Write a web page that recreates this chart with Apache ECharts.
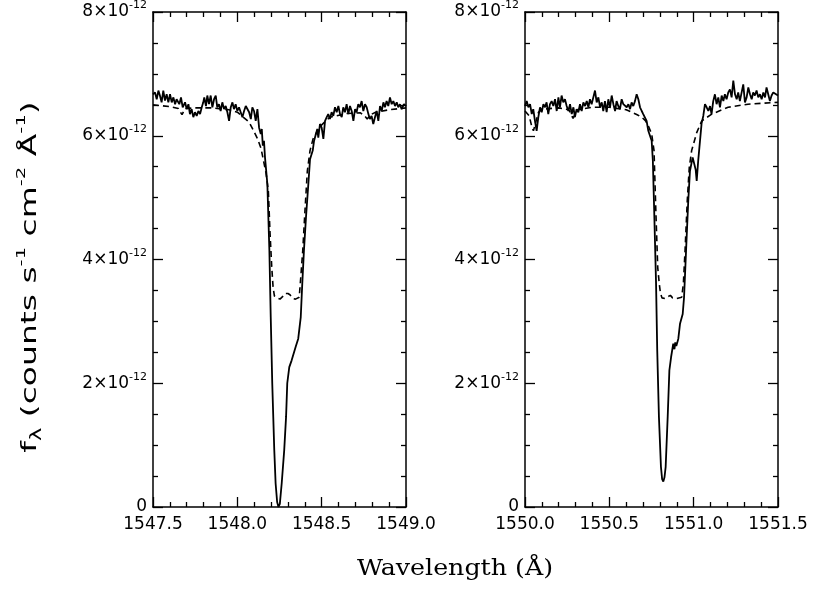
<!DOCTYPE html>
<html>
<head>
<meta charset="utf-8">
<script src="https://cdn.jsdelivr.net/npm/echarts@6/dist/echarts.min.js"></script>
<style>html,body{margin:0;padding:0;background:#fff}#c{width:813px;height:591px}</style>
</head>
<body>
<div id="c"></div>
<script>
// Flux values in units of 1e-12 counts s^-1 cm^-2 Å^-1; wavelength in Å
var solidLeft = [
[1547.500,6.67],[1547.512,6.70],[1547.522,6.59],[1547.532,6.73],[1547.541,6.65],[1547.551,6.54],[1547.561,6.73],[1547.571,6.57],[1547.581,6.67],[1547.591,6.54],[1547.601,6.67],[1547.611,6.54],[1547.621,6.62],[1547.631,6.51],[1547.640,6.59],[1547.656,6.51],[1547.666,6.62],[1547.676,6.46],[1547.690,6.54],[1547.700,6.43],[1547.710,6.51],[1547.719,6.35],[1547.729,6.43],[1547.739,6.30],[1547.749,6.38],[1547.759,6.32],[1547.769,6.40],[1547.779,6.35],[1547.789,6.46],[1547.798,6.54],[1547.804,6.62],[1547.814,6.48],[1547.822,6.65],[1547.832,6.51],[1547.842,6.65],[1547.852,6.46],[1547.862,6.59],[1547.872,6.65],[1547.881,6.46],[1547.891,6.51],[1547.901,6.40],[1547.911,6.54],[1547.921,6.43],[1547.931,6.48],[1547.941,6.38],[1547.951,6.24],[1547.961,6.46],[1547.971,6.54],[1547.980,6.43],[1547.990,6.51],[1548.000,6.40],[1548.010,6.46],[1548.020,6.38],[1548.030,6.30],[1548.040,6.40],[1548.050,6.48],[1548.060,6.51],[1548.070,6.38],[1548.080,6.27],[1548.089,6.46],[1548.099,6.40],[1548.109,6.24],[1548.119,6.43],[1548.129,6.13],[1548.139,6.03],[1548.145,6.11],[1548.151,5.84],[1548.158,5.92],[1548.164,5.65],[1548.178,5.22],[1548.190,4.15],[1548.198,3.07],[1548.207,2.00],[1548.219,0.92],[1548.227,0.38],[1548.236,0.08],[1548.244,0.00],[1548.252,0.05],[1548.263,0.38],[1548.278,0.92],[1548.289,1.46],[1548.296,2.00],[1548.308,2.26],[1548.322,2.37],[1548.332,2.40],[1548.346,2.59],[1548.361,2.72],[1548.376,3.07],[1548.385,3.61],[1548.395,4.15],[1548.407,4.68],[1548.421,5.22],[1548.431,5.62],[1548.447,5.76],[1548.455,5.92],[1548.466,6.03],[1548.474,6.11],[1548.480,5.97],[1548.490,6.19],[1548.500,6.13],[1548.510,5.95],[1548.520,6.24],[1548.530,6.30],[1548.539,6.35],[1548.549,6.27],[1548.559,6.38],[1548.569,6.32],[1548.579,6.46],[1548.589,6.38],[1548.599,6.48],[1548.609,6.35],[1548.619,6.30],[1548.628,6.46],[1548.638,6.38],[1548.648,6.51],[1548.658,6.35],[1548.668,6.48],[1548.678,6.40],[1548.688,6.24],[1548.698,6.43],[1548.707,6.38],[1548.717,6.51],[1548.727,6.46],[1548.737,6.56],[1548.747,6.40],[1548.757,6.51],[1548.767,6.46],[1548.777,6.35],[1548.786,6.27],[1548.796,6.32],[1548.806,6.19],[1548.816,6.30],[1548.826,6.40],[1548.836,6.24],[1548.846,6.48],[1548.856,6.40],[1548.866,6.54],[1548.875,6.46],[1548.885,6.56],[1548.895,6.48],[1548.905,6.62],[1548.915,6.51],[1548.925,6.56],[1548.935,6.48],[1548.945,6.54],[1548.954,6.46],[1548.964,6.51],[1548.974,6.43],[1548.988,6.51],[1549.000,6.48]
];
var modelLeft = [
[1547.50,6.50],[1547.60,6.47],[1547.65,6.44],[1547.672,6.34],[1547.69,6.44],[1547.75,6.45],[1547.85,6.45],[1547.95,6.42],[1548.00,6.38],[1548.04,6.29],[1548.07,6.22],[1548.093,6.10],[1548.12,5.95],[1548.140,5.80],[1548.155,5.60],[1548.170,5.40],[1548.184,5.10],[1548.194,4.42],[1548.204,3.88],[1548.212,3.55],[1548.220,3.41],[1548.235,3.38],[1548.253,3.36],[1548.268,3.40],[1548.283,3.45],[1548.300,3.45],[1548.312,3.43],[1548.330,3.37],[1548.345,3.36],[1548.367,3.39],[1548.376,3.71],[1548.388,4.15],[1548.401,4.79],[1548.415,5.43],[1548.431,5.76],[1548.449,5.95],[1548.49,6.15],[1548.549,6.30],[1548.65,6.36],[1548.73,6.37],[1548.755,6.32],[1548.77,6.27],[1548.79,6.34],[1548.82,6.38],[1548.90,6.42],[1549.00,6.45]
];
var solidRight = [
[1550.000,6.48],[1550.010,6.56],[1550.020,6.46],[1550.030,6.51],[1550.040,6.35],[1550.049,6.43],[1550.059,6.24],[1550.069,6.08],[1550.079,6.30],[1550.089,6.46],[1550.099,6.38],[1550.109,6.51],[1550.119,6.46],[1550.128,6.54],[1550.138,6.35],[1550.148,6.51],[1550.158,6.56],[1550.168,6.48],[1550.178,6.59],[1550.188,6.40],[1550.198,6.62],[1550.207,6.46],[1550.217,6.65],[1550.227,6.54],[1550.237,6.59],[1550.247,6.48],[1550.257,6.40],[1550.267,6.51],[1550.277,6.35],[1550.287,6.46],[1550.296,6.30],[1550.306,6.43],[1550.316,6.38],[1550.326,6.51],[1550.336,6.40],[1550.346,6.54],[1550.356,6.48],[1550.366,6.56],[1550.376,6.46],[1550.385,6.59],[1550.395,6.51],[1550.405,6.62],[1550.415,6.73],[1550.425,6.54],[1550.435,6.62],[1550.445,6.46],[1550.455,6.54],[1550.464,6.40],[1550.474,6.56],[1550.484,6.38],[1550.494,6.59],[1550.504,6.46],[1550.514,6.65],[1550.524,6.51],[1550.534,6.40],[1550.543,6.56],[1550.553,6.48],[1550.563,6.43],[1550.573,6.59],[1550.583,6.51],[1550.593,6.54],[1550.603,6.46],[1550.613,6.51],[1550.623,6.43],[1550.632,6.54],[1550.642,6.48],[1550.652,6.56],[1550.662,6.67],[1550.672,6.59],[1550.682,6.46],[1550.692,6.40],[1550.701,6.35],[1550.711,6.38],[1550.721,6.24],[1550.731,6.08],[1550.741,6.11],[1550.751,5.92],[1550.758,5.60],[1550.767,4.68],[1550.777,3.61],[1550.784,2.53],[1550.794,1.46],[1550.806,0.65],[1550.813,0.45],[1550.820,0.41],[1550.827,0.48],[1550.834,0.65],[1550.846,1.46],[1550.856,2.21],[1550.866,2.42],[1550.879,2.64],[1550.886,2.55],[1550.891,2.66],[1550.897,2.60],[1550.909,2.72],[1550.919,2.96],[1550.935,3.12],[1550.943,3.39],[1550.955,4.15],[1550.968,4.95],[1550.978,5.43],[1550.994,5.65],[1551.004,5.68],[1551.012,5.45],[1551.018,5.27],[1551.027,5.60],[1551.037,5.90],[1551.047,6.20],[1551.057,6.32],[1551.067,6.51],[1551.077,6.46],[1551.087,6.40],[1551.097,6.48],[1551.106,6.35],[1551.116,6.56],[1551.126,6.67],[1551.136,6.51],[1551.146,6.62],[1551.156,6.46],[1551.166,6.65],[1551.176,6.56],[1551.185,6.67],[1551.195,6.59],[1551.205,6.70],[1551.215,6.75],[1551.225,6.62],[1551.235,6.89],[1551.245,6.67],[1551.255,6.59],[1551.264,6.70],[1551.274,6.56],[1551.284,6.54],[1551.294,6.83],[1551.304,6.54],[1551.314,6.62],[1551.324,6.78],[1551.334,6.67],[1551.344,6.59],[1551.353,6.70],[1551.363,6.65],[1551.373,6.73],[1551.383,6.62],[1551.393,6.67],[1551.403,6.59],[1551.413,6.70],[1551.423,6.62],[1551.432,6.78],[1551.442,6.67],[1551.452,6.56],[1551.462,6.65],[1551.472,6.70],[1551.482,6.67],[1551.500,6.65]
];
var modelRight = [
[1550.00,6.40],[1550.025,6.32],[1550.040,6.15],[1550.050,6.08],[1550.062,6.20],[1550.08,6.38],[1550.10,6.43],[1550.20,6.45],[1550.26,6.42],[1550.285,6.28],[1550.31,6.42],[1550.40,6.46],[1550.50,6.46],[1550.60,6.42],[1550.633,6.38],[1550.665,6.34],[1550.692,6.30],[1550.715,6.24],[1550.731,6.16],[1550.751,6.03],[1550.765,5.76],[1550.777,4.68],[1550.787,3.87],[1550.796,3.61],[1550.803,3.46],[1550.812,3.38],[1550.830,3.37],[1550.848,3.40],[1550.862,3.42],[1550.875,3.38],[1550.900,3.37],[1550.929,3.39],[1550.939,3.61],[1550.949,4.15],[1550.962,4.95],[1550.974,5.49],[1550.988,5.76],[1551.018,6.05],[1551.048,6.24],[1551.107,6.35],[1551.204,6.46],[1551.322,6.51],[1551.50,6.54]
];
var xRangeLeft = [1547.5, 1549.0];
var xRangeRight = [1550.0, 1551.5];
var yRange = [0, 8];           // ×1e-12
var yExponent = -12;

var FONT = 'DejaVu Sans';
var black = '#000';

function yFmt(v) {
  if (Math.abs(v) < 1e-9) return '{b|0}';
  return '{b|' + Math.round(v) + '×10}{s|' + yExponent + '}';
}
var yRich = {
  b: {fontFamily: FONT, fontSize: 17, color: black, lineHeight: 24},
  s: {fontFamily: FONT, fontSize: 11, color: black, lineHeight: 10, verticalAlign: 'top'}
};

function xAxisDef(grid, range, pos) {
  var bottom = pos === 'bottom';
  return {
    type: 'value', gridIndex: grid, position: pos, min: range[0], max: range[1], interval: 0.5,
    axisLine: {show: true, onZero: false, lineStyle: {color: black, width: 1.5}},
    axisTick: {show: true, inside: true, length: 10, lineStyle: {color: black, width: 1.3}},
    minorTick: {show: true, splitNumber: 5, length: 5, lineStyle: {color: black, width: 1.3}},
    splitLine: {show: false}, minorSplitLine: {show: false},
    axisLabel: {show: bottom, margin: 9, showMinLabel: true, showMaxLabel: true,
      fontFamily: FONT, fontSize: 17, color: black,
      formatter: function (v) { return v.toFixed(1); }}
  };
}
function yAxisDef(grid, pos) {
  var left = pos === 'left';
  return {
    type: 'value', gridIndex: grid, position: pos, min: yRange[0], max: yRange[1], interval: 2,
    axisLine: {show: true, onZero: false, lineStyle: {color: black, width: 1.5}},
    axisTick: {show: true, inside: true, length: 10, lineStyle: {color: black, width: 1.3}},
    minorTick: {show: true, splitNumber: 4, length: 5, lineStyle: {color: black, width: 1.3}},
    splitLine: {show: false}, minorSplitLine: {show: false},
    axisLabel: {show: left, margin: 6, showMinLabel: true, showMaxLabel: true,
      formatter: yFmt, rich: yRich}
  };
}
function lineSeries(data, xi, dashed) {
  return {
    type: 'line', xAxisIndex: xi, yAxisIndex: xi, data: data, showSymbol: false, symbol: 'none',
    clip: true, silent: true,
    lineStyle: {color: black, width: dashed ? 1.6 : 1.8, type: dashed ? [6, 4] : 'solid'}
  };
}

var chart = echarts.init(document.getElementById('c'), null, {renderer: 'canvas'});
chart.setOption({
  animation: false,
  backgroundColor: '#fff',
  grid: [
    {left: 153, right: 407, top: 11, bottom: 84},
    {left: 525, right: 35, top: 11, bottom: 84}
  ],
  xAxis: [
    xAxisDef(0, xRangeLeft, 'bottom'), xAxisDef(0, xRangeLeft, 'top'),
    xAxisDef(1, xRangeRight, 'bottom'), xAxisDef(1, xRangeRight, 'top')
  ],
  yAxis: [
    yAxisDef(0, 'left'), yAxisDef(0, 'right'),
    yAxisDef(1, 'left'), yAxisDef(1, 'right')
  ],
  series: [
    lineSeries(modelLeft, 0, true), lineSeries(solidLeft, 0, false),
    lineSeries(modelRight, 2, true), lineSeries(solidRight, 2, false)
  ],
  graphic: [
    {type: 'text', x: 455, y: 569, scaleX: 1.1,
      style: {text: 'Wavelength (Å)', fontFamily: 'DejaVu Serif', fontSize: 23, fill: black,
        align: 'center', verticalAlign: 'middle'}},
    {type: 'text', x: 30, y: 277, rotation: Math.PI / 2, scaleX: 1.5,
      style: {
        text: '{a|f}{sub|λ}{a| (counts s}{sup|-1}{a| cm}{sup|-2}{a| Å}{sup|-1}{a|)}',
        align: 'center', verticalAlign: 'middle',
        rich: {
          a: {fontFamily: FONT, fontSize: 22, fill: black, lineHeight: 30},
          sup: {fontFamily: FONT, fontSize: 13, fill: black, lineHeight: 13, verticalAlign: 'top'},
          sub: {fontFamily: FONT, fontSize: 15, fill: black, lineHeight: 12, verticalAlign: 'bottom'}
        }
      }}
  ]
});
</script>
</body>
</html>
